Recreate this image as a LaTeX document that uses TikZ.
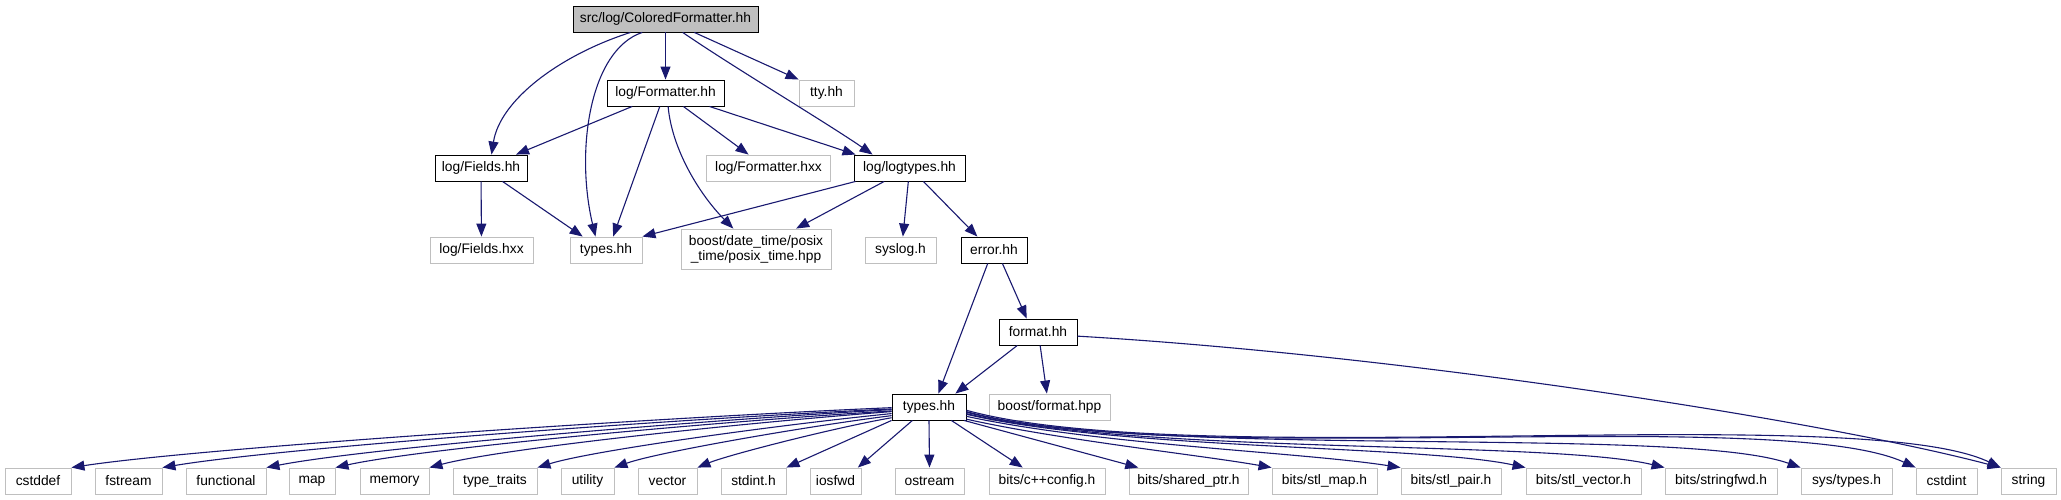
\documentclass[tikz,border=0pt]{standalone}
\usepackage{fontspec}
\setmainfont{Liberation Sans}
\usetikzlibrary{arrows.meta}

\definecolor{edgeblue}{HTML}{191970}
\definecolor{grey75}{HTML}{BFBFBF}

\begin{document}
\begin{tikzpicture}[
        x=1pt, y=-1pt,
        hdr/.style={draw, line width=0.9pt, minimum height=26pt, inner sep=0pt, font=\fontsize{13.8}{15}\selectfont, align=center},
        sys/.style={hdr, draw=grey75},
        dep/.style={draw=edgeblue, line width=1.1pt, -{Triangle[length=13pt, width=10pt]}}
    ]
        \path[use as bounding box, fill=white] (0,0) rectangle (2061,500);

        % project headers
        \node[hdr, fill=grey75, minimum width=185pt] (colored) at (665.5,19) {src/log/ColoredFormatter.hh};
        \node[hdr, minimum width=117pt] (formatter) at (665.5,93) {log/Formatter.hh};
        \node[sys, minimum width=55pt] (tty) at (826.5,93) {tty.hh};
        \node[hdr, minimum width=92pt] (fields) at (481,168) {log/Fields.hh};
        \node[sys, minimum width=124pt] (formatterhxx) at (768.5,168) {log/Formatter.hxx};
        \node[hdr, minimum width=111pt] (logtypes) at (909.5,168) {log/logtypes.hh};
        \node[sys, minimum width=103pt] (fieldshxx) at (481.5,250) {log/Fields.hxx};
        \node[sys, minimum width=72pt] (typesleaf) at (606,250) {types.hh};
        \node[sys, minimum width=150pt, minimum height=40pt] (posix) at (756,249) {boost/date\_time/posix\\\_time/posix\_time.hpp};
        \node[sys, minimum width=71pt] (syslog) at (900.5,250) {syslog.h};
        \node[hdr, minimum width=66pt] (error) at (994,250) {error.hh};
        \node[hdr, minimum width=78pt] (format) at (1038,332) {format.hh};
        \node[hdr, minimum width=74pt] (types) at (929,407) {types.hh};
        \node[sys, minimum width=121pt] (boostfmt) at (1049.5,407) {boost/format.hpp};

        % system headers
        \node[sys, minimum width=66pt] (cstddef) at (38,481) {cstddef};
        \node[sys, minimum width=67pt] (fstream) at (128.5,481) {fstream};
        \node[sys, minimum width=80pt] (functional) at (226,481) {functional};
        \node[sys, minimum width=46pt] (map) at (312,481) {map};
        \node[sys, minimum width=69pt] (memory) at (394.5,481) {memory};
        \node[sys, minimum width=84pt] (typetraits) at (495,481) {type\_traits};
        \node[sys, minimum width=53pt] (utility) at (587.5,481) {utility};
        \node[sys, minimum width=59pt] (vector) at (667.5,481) {vector};
        \node[sys, minimum width=65pt] (stdint) at (753.5,481) {stdint.h};
        \node[sys, minimum width=51pt] (iosfwd) at (835.5,481) {iosfwd};
        \node[sys, minimum width=69pt] (ostream) at (929.5,481) {ostream};
        \node[sys, minimum width=116pt] (cxxconfig) at (1047,481) {bits/c++config.h};
        \node[sys, minimum width=119pt] (sharedptr) at (1188.5,481) {bits/shared\_ptr.h};
        \node[sys, minimum width=105pt] (stlmap) at (1324.5,481) {bits/stl\_map.h};
        \node[sys, minimum width=100pt] (stlpair) at (1451,481) {bits/stl\_pair.h};
        \node[sys, minimum width=115pt] (stlvector) at (1583.5,481) {bits/stl\_vector.h};
        \node[sys, minimum width=112pt] (stringfwd) at (1721,481) {bits/stringfwd.h};
        \node[sys, minimum width=91pt] (systypes) at (1846.5,481) {sys/types.h};
        \node[sys, minimum width=61pt] (cstdint) at (1946.5,481) {cstdint};
        \node[sys, minimum width=55pt] (string) at (2028.5,481) {string};

        % ColoredFormatter.hh
        \draw[dep] (colored.201) .. controls (560,55) and (500,100) .. (fields.52);
        \draw[dep] (colored.210) .. controls (590,50) and (575,150) .. (typesleaf.128);
        \draw[dep] (colored) -- (formatter);
        \draw[dep] (colored.322) .. controls (730,65) and (830,125) .. (logtypes.160);
        \draw[dep] (colored.335) -- (tty.north west);

        % Formatter.hh
        \draw[dep] (formatter.202) -- (fields.21);
        \draw[dep] (formatter.247) -- (typesleaf.62);
        \draw[dep] (formatter.281) .. controls (672,150) and (700,195) .. (posix.138);
        \draw[dep] (formatter.323) -- (formatterhxx.146);
        \draw[dep] (formatter.343) -- (logtypes.166);

        % Fields.hh, logtypes.hh
        \draw[dep] (fields) -- (fieldshxx);
        \draw[dep] (fields.328) -- (typesleaf.150);
        \draw[dep] (logtypes.194) -- (typesleaf.north east);
        \draw[dep] (logtypes.208) -- (posix.27);
        \draw[dep] (logtypes.265) -- (syslog.80);
        \draw[dep] (logtypes.316) -- (error.141);

        % error.hh, format.hh
        \draw[dep] (error.245) -- (types.55);
        \draw[dep] (error.302) -- (format.130);
        \draw[dep] (format.213) -- (types.27);
        \draw[dep] (format.279) -- (boostfmt.101);
        \draw[dep] (format.354) .. controls (1400,355) and (1820,420) .. (string.north west);

        % types.hh
        \draw[dep] (types.181.5) .. controls (650,418) and (200,448) .. (cstddef.north east);
        \draw[dep] (types.183) .. controls (673,419) and (279,448) .. (fstream.north east);
        \draw[dep] (types.184.6) .. controls (704,420) and (366,448) .. (functional.north east);
        \draw[dep] (types.186.2) .. controls (725,421) and (424,448) .. (map.north east);
        \draw[dep] (types.187.7) .. controls (753,422) and (503,448) .. (memory.north east);
        \draw[dep] (types.190.7) .. controls (786,424) and (594,450) .. (typetraits.north east);
        \draw[dep] (types.193.7) .. controls (809,426) and (658,452) .. (utility.north east);
        \draw[dep] (types.196.6) .. controls (833,428) and (728,455) .. (vector.north east);
        \draw[dep] (types.south west) -- (stdint.north east);
        \draw[dep] (types.219) -- (iosfwd.31);
        \draw[dep] (types.south) -- (ostream.north);
        \draw[dep] (types.329) -- (cxxconfig.151);
        \draw[dep] (types.339) -- (sharedptr.165);
        \draw[dep] (types.342) .. controls (1060,440) and (1200,455) .. (stlmap.north west);
        \draw[dep] (types.346.3) .. controls (1100,445) and (1300,452) .. (stlpair.north west);
        \draw[dep] (types.349.3) .. controls (1120,450) and (1420,445) .. (stlvector.north west);
        \draw[dep] (types.350.8) .. controls (1140,455) and (1550,440) .. (stringfwd.north west);
        \draw[dep] (types.352.3) .. controls (1150,460) and (1680,425) .. (systypes.north west);
        \draw[dep] (types.353.8) .. controls (1180,470) and (1780,405) .. (cstdint.north west);
        \draw[dep] (types.355.4) .. controls (1190,472) and (1860,400) .. (string.north west);
    \end{tikzpicture}
\end{document}
